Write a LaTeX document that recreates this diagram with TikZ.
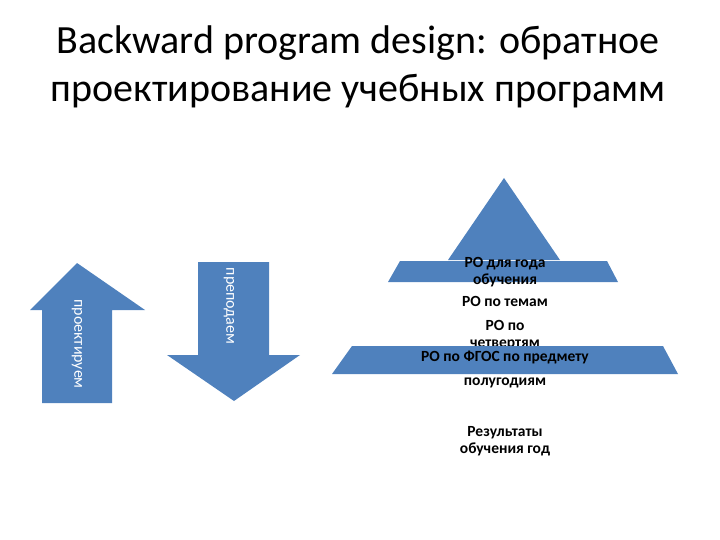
\documentclass[tikz,border=0pt]{standalone}
\usepackage{fontspec}
\setmainfont{Carlito}
\definecolor{blu}{HTML}{4F81BD}
\begin{document}
\begin{tikzpicture}[x=1pt,y=-1pt,
  shp/.style={fill=blu,draw=none},
  lbl/.style={font=\bfseries\fontsize{15.5}{17}\selectfont,text=black,align=center},
  arrtxt/.style={font=\fontsize{16}{18}\selectfont,text=white,rotate=-90}]
\useasboundingbox (0,0) rectangle (720,540);
\node (title) at (358,68) {\fontsize{40}{48}\selectfont\begin{tabular}{c}Backward program design: обратное\\проектирование учебных программ\end{tabular}};
% up arrow
\fill[shp] (42,403) -- (42,310) -- (30,310) -- (77,263) -- (145,310) -- (112,310) -- (112,403) -- cycle;
\node[arrtxt] (up) at (77,344) {проектируем};
% down arrow
\fill[shp] (198,262) -- (269,262) -- (269,355) -- (300,355) -- (234,401) -- (167,355) -- (198,355) -- cycle;
\node[arrtxt] (down) at (229,306) {преподаем};
% pyramid
\fill[shp] (504,178) -- (560,260) -- (448,260) -- cycle;
\fill[shp] (400,261) -- (607,261) -- (618,282) -- (388,282) -- cycle;
\node[lbl] (t1) at (505,272) {РО для года\\обучения};
\node[lbl] (t2) at (505,301) {РО по темам};
\node[lbl] (t3) at (505,335) {РО по\\четвертям};
\fill[shp] (352,346) -- (663,346) -- (678,374) -- (332,374) -- cycle;
\node[lbl] (t4) at (505,358) {РО по ФГОС по предмету};
\node[lbl] (t5) at (505,383) {полугодиям};
\node[lbl] (t6) at (505,441) {Результаты\\обучения год};
\end{tikzpicture}
\end{document}
